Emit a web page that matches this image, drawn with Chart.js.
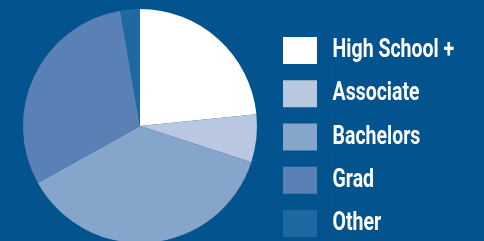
<!DOCTYPE html>
<html lang="en">
<head>
    <meta charset="UTF-8">
    <title>Education pie</title>
    <script src="https://cdn.jsdelivr.net/npm/chart.js"></script>
    <style>
        html, body {
            margin: 0;
            padding: 0;
            background-color: #03538f;
            overflow: hidden;
        }
        /* wider than the window: the squeezed legend needs room before its clip */
        .wrap {
            position: relative;
            width: 560px;
            height: 260px;
        }
    </style>
</head>
<body>
    <div class="wrap"><canvas id="pieChart"></canvas></div>
    <script>
    // share of each group
    var categories = ['High School +', 'Associate', 'Bachelors', 'Grad', 'Other'];
    var shares = [23.4, 6.6, 36.9, 30.4, 2.7];
    var sliceColors = ['#ffffff', '#b9c8e0', '#86a5ca', '#5981b6', '#1f69a3'];
    var bgColor = '#03538f';

    // legend text is squeezed sideways to look like a condensed face
    var squeeze = 0.75;
    var squeezeX = 283;     // left edge of the swatches
    var trim = 15.5;        // bg-coloured outline that trims the swatches
    var legendLeft = 274.5;
    var canvasWidth = 560;

    var condensedLegend = {
        id: 'condensedLegend',
        beforeDraw: function(c) {
            var g = c.ctx;
            g.save();
            g.translate(squeezeX, 0);
            g.scale(squeeze, 1);
            g.translate(-squeezeX, 0);
        },
        beforeDatasetsDraw: function(c) {
            c.ctx.restore();
        }
    };

    var ctx = document.getElementById('pieChart').getContext('2d');
    var chart = new Chart(ctx, {
        type: 'pie',
        data: {
            labels: categories,
            datasets: [{
                data: shares,
                backgroundColor: sliceColors,
                borderWidth: 0,
                radius: 117,
                clip: false
            }]
        },
        plugins: [condensedLegend],
        options: {
            responsive: true,
            maintainAspectRatio: false,
            animation: false,
            layout: {
                padding: { left: 5.5, top: 28.5, bottom: 0, right: 0 }
            },
            plugins: {
                tooltip: { enabled: false },
                // empty title used as a spacer so the pie sits higher than the legend column
                title: {
                    display: true,
                    text: '',
                    position: 'bottom',
                    padding: 0,
                    font: { size: 10, lineHeight: '36.5px' }
                },
                legend: {
                    position: 'right',
                    align: 'start',
                    labels: {
                        color: '#ffffff',
                        boxWidth: 34 / squeeze + trim,
                        boxHeight: 27 + trim,
                        padding: 0.75,
                        font: {
                            family: 'Roboto',
                            weight: 'bold',
                            size: 26
                        },
                        generateLabels: function(c) {
                            var items = Chart.overrides.pie.plugins.legend.labels.generateLabels(c);
                            items.forEach(function(it) {
                                it.strokeStyle = bgColor;
                                it.lineWidth = trim;
                                it.lineJoin = 'miter';
                            });
                            return items;
                        }
                    }
                }
            }
        }
    });

    // move the legend so it starts at legendLeft now that its width is known
    chart.options.layout.padding.right = Math.max(0, canvasWidth - legendLeft - chart.legend.width);
    chart.update();
    </script>
</body>
</html>
